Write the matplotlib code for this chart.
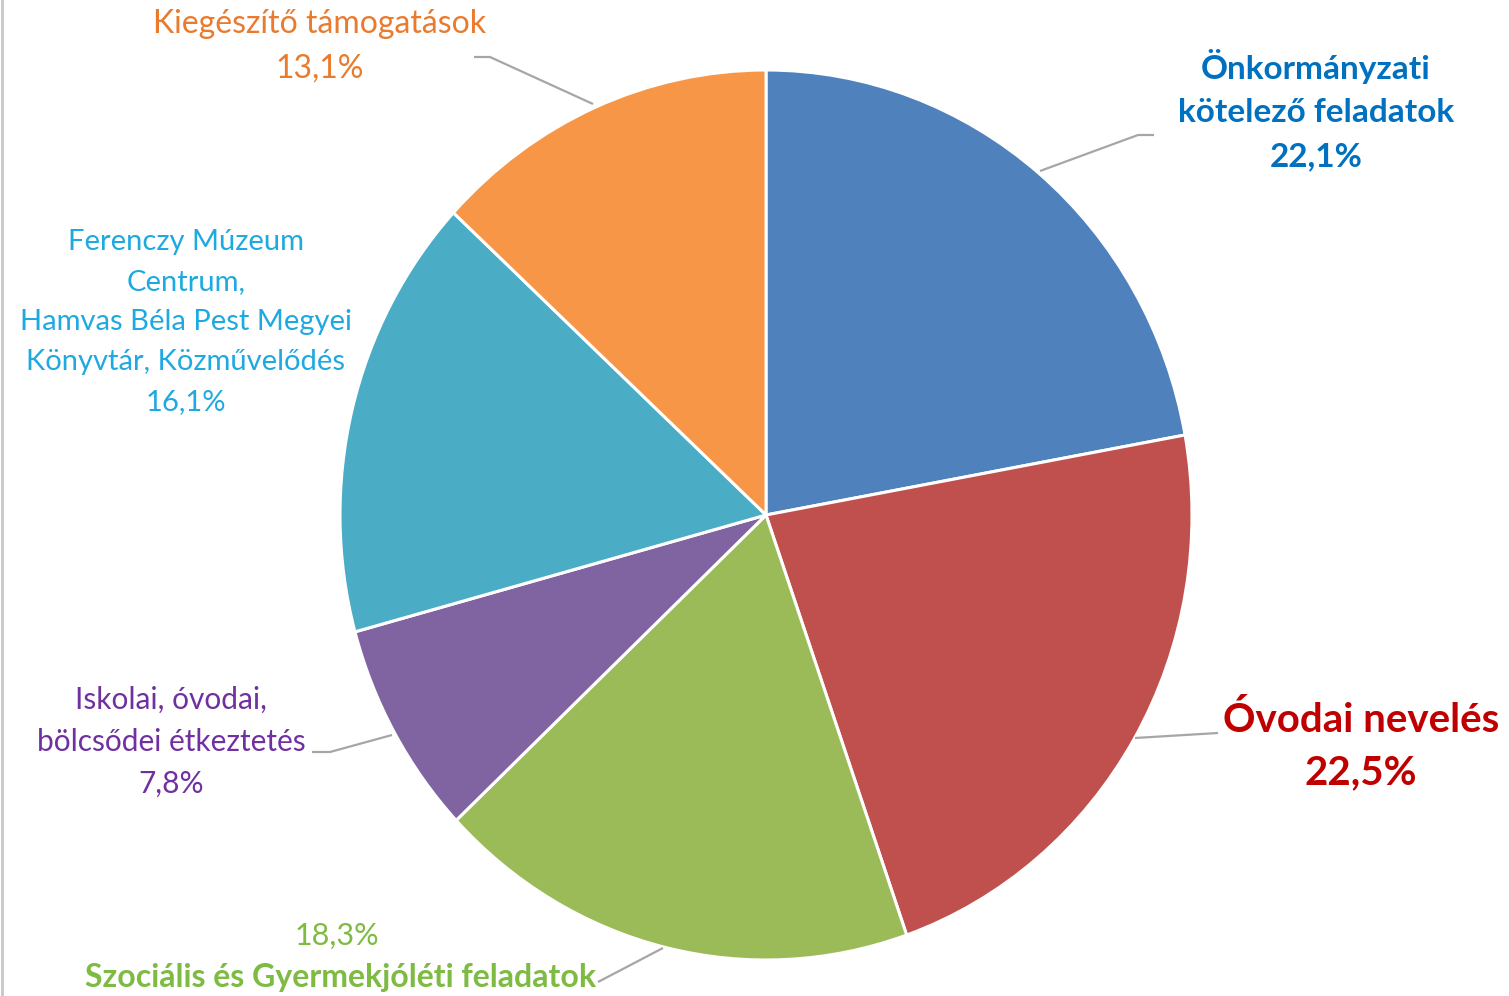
"""Hungarian budget split pie -> out.png"""
import matplotlib
matplotlib.use("Agg")
from matplotlib import pyplot as plt
from matplotlib.lines import Line2D

plt.rcParams["font.family"] = ["Lato", "DejaVu Sans"]

# slices, clockwise from 12 o'clock
labels = ["Önkormányzati\nkötelező feladatok", "Óvodai nevelés",
          "Szociális és Gyermekjóléti feladatok", "Iskolai, óvodai,\nbölcsődei étkeztetés",
          "Ferenczy Múzeum\nCentrum,\nHamvas Béla Pest Megyei\nKönyvtár, Közművelődés",
          "Kiegészítő támogatások"]
shares = [22.1, 22.5, 18.3, 7.8, 16.1, 13.1]
pct_text = ["22,1%", "22,5%", "18,3%", "7,8%", "16,1%", "13,1%"]

SLICE = ["#4F81BD", "#C0504D", "#9BBB59", "#8064A2", "#4BACC6", "#F79646"]
TEXT = ["#0070C0", "#C00000", "#7DBB42", "#7030A0", "#1FA9E1", "#E97A2E"]
LEADER = "#A6A6A6"

W, H = 1509, 996
CX, CY, RX, RY = 766, 515, 426, 445   # pie centre / radii in pixels (slightly stretched)

fig = plt.figure(figsize=(W / 100, H / 100), dpi=100)
ax = fig.add_axes([0, 0, 1, 1])
ax.pie(shares, colors=SLICE, startangle=90, counterclock=False, radius=1,
       wedgeprops=dict(edgecolor="white", linewidth=2.2), frame=True)
ax.set_xlim(-CX / RX, (W - CX) / RX)
ax.set_ylim(-(H - CY) / RY, CY / RY)
ax.set_aspect("auto")
ax.axis("off")


def p(x, y):
    """pixel -> data coords"""
    return (x - CX) / RX, (CY - y) / RY


def lead(pts):
    xs, ys = zip(*[p(*q) for q in pts])
    ax.plot(xs, ys, color=LEADER, lw=1.6, solid_capstyle="butt")


def txt(x, y, s, color, size=21, weight="normal", ls=1.6):
    ax.text(*p(x, y), s, color=color, fontsize=size, fontweight=weight,
            ha="center", va="center", linespacing=ls)


# leader lines
lead([(1040, 171), (1138, 135), (1154, 135)])
lead([(1135, 738), (1218, 733)])
lead([(663, 948), (598, 982)])
lead([(392, 735), (330, 752), (312, 752)])
lead([(593, 104), (490, 57), (474, 57)])

# labels
txt(1316, 110, labels[0] + "\n" + pct_text[0], TEXT[0], size=24, weight="bold")
txt(1361, 746, labels[1] + "\n" + pct_text[1], TEXT[1], size=29, weight="bold", ls=1.5)
txt(337, 936, pct_text[2], TEXT[2], size=22)
txt(341, 978, labels[2], TEXT[2], size=23, weight="bold")
txt(171, 742, labels[3] + "\n" + pct_text[3], TEXT[3], size=21.5)
txt(186, 322, labels[4] + "\n" + pct_text[4], TEXT[4], ls=1.67)
txt(320, 46, labels[5] + "\n" + pct_text[5], TEXT[5], size=23)

# thin grey frame edge on the left
fig.add_artist(Line2D([0.001, 0.001], [0, 1], color="#C8C8C8", lw=2, transform=fig.transFigure))

fig.savefig("out.png", dpi=100, facecolor="white")
